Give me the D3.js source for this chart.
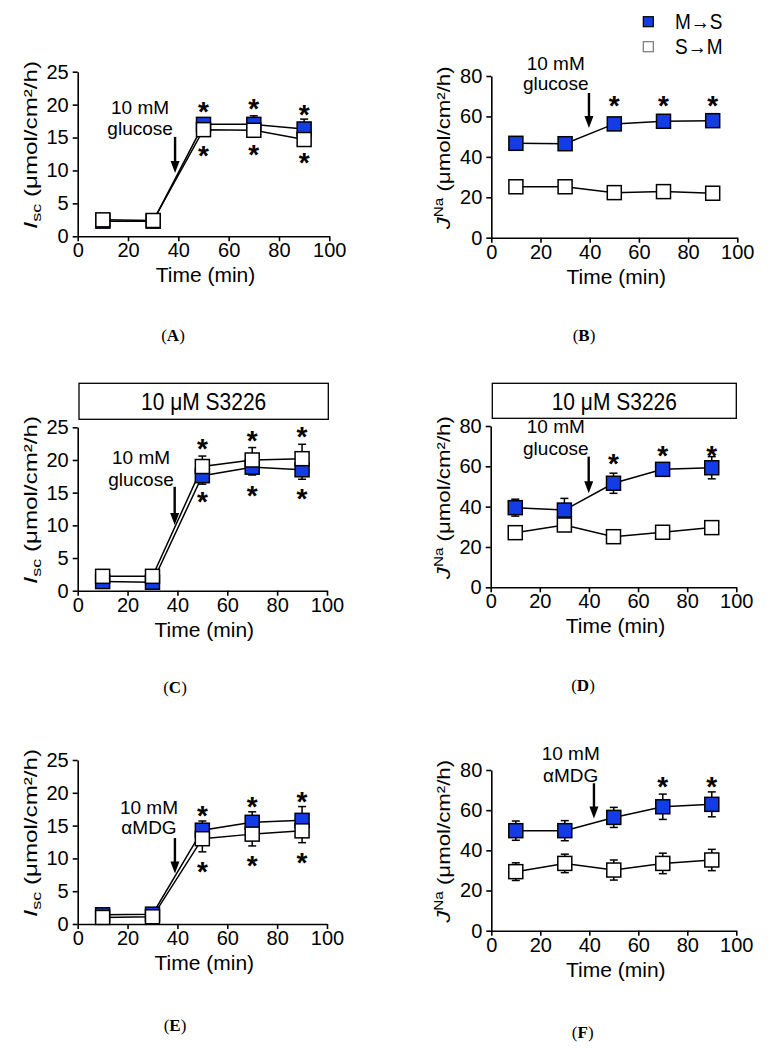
<!DOCTYPE html>
<html><head><meta charset="utf-8">
<script src="https://cdn.jsdelivr.net/npm/d3@7"></script>
<style>
body{margin:0;background:#fff}
.tall{transform-box:fill-box;transform-origin:center;transform:scaleY(1.12)}
</style>
</head><body><svg id="chart" width="768" height="1057"></svg>
<script>
// ---------- data ----------
const times = [10, 30, 50, 70, 90];
const xTicks = [0, 20, 40, 60, 80, 100];
const iscTicks = [0, 5, 10, 15, 20, 25];
const jnaTicks = [0, 20, 40, 60, 80];
const seriesNames = ["M→S", "S→M"];
const panelLetters = ["A", "B", "C", "D", "E", "F"];
const boxText = "10 μM S3226";
const xTitle = "Time (min)";
const noteGlucose = ["10 mM", "glucose"];
const noteMDG = ["10 mM", "αMDG"];

// (A) Isc, glucose
const msA = [2.3, 2.3, 17.0, 17.0, 16.3];
const msErrA = [0.2, 0.2, 1.0, 1.3, 1.5];
const smA = [2.5, 2.4, 16.2, 16.1, 14.7];
const smErrA = [0.3, 0.3, 0.7, 0.8, 0.9];
// (B) JNa, glucose
const msB = [46.7, 46.5, 56.3, 57.6, 57.9];
const msErrB = [1.5, 1.5, 2.0, 2.0, 2.0];
const smB = [25.2, 25.2, 22.3, 22.8, 22.0];
const smErrB = [1.0, 1.0, 1.0, 1.0, 1.0];
// (C) Isc, S3226 + glucose
const msC = [1.4, 1.3, 17.6, 18.9, 18.5];
const msErrC = [0.3, 0.3, 1.3, 1.2, 1.45];
const smC = [2.2, 2.2, 19.0, 20.0, 20.2];
const smErrC = [0.3, 0.3, 1.6, 1.9, 2.2];
// (D) JNa, S3226 + glucose
const msD = [39.5, 38.3, 51.6, 58.5, 59.3];
const msErrD = [4.2, 5.8, 5.0, 3.0, 5.5];
const smD = [27.1, 30.9, 25.1, 27.3, 29.6];
const smErrD = [2.0, 2.0, 2.0, 2.0, 2.0];
// (E) Isc, aMDG
const msE = [1.4, 1.5, 14.3, 15.5, 15.8];
const msErrE = [0.3, 0.3, 1.4, 1.6, 2.1];
const smE = [1.0, 1.1, 13.0, 13.7, 14.2];
const smErrE = [0.3, 0.3, 2.0, 1.8, 1.8];
// (F) JNa, aMDG
const msF = [49.8, 49.8, 56.4, 61.7, 62.9];
const msErrF = [4.8, 5.0, 5.0, 6.3, 6.2];
const smF = [29.4, 33.5, 30.2, 33.5, 35.2];
const smErrF = [4.4, 4.6, 5.0, 5.1, 5.3];

// significance stars (y position in data units, null = none)
const starsAboveA = [null, null, 19.8, 20.2, 19.3];
const starsBelowA = [null, null, 13.1, 13.3, 12.0];
const starsAboveB = [null, null, 68.1, 68.1, 68.1];
const starsAboveC = [null, null, 22.55, 23.8, 24.5];
const starsBelowC = [null, null, 14.5, 15.4, 15.0];
const starsAboveD = [null, null, 64.0, 68.1, 68.1];
const starsAboveE = [null, null, 17.4, 18.75, 19.5];
const starsBelowE = [null, null, 8.85, 9.75, 10.26];
const starsAboveF = [null, null, null, 74.5, 74.5];

// ---------- style / layout ----------
const FONT = '"Liberation Sans", Arial, Helvetica, sans-serif';
const SERIF = '"Liberation Serif", "Times New Roman", serif';
const BLUE = "#143ce6";

const panels = [
  {letter: "A", kind: "isc", ymax: 25, ticks: iscTicks, x0: 77.7, x1: 329.3, y0: 236.3, y1: 71.7,
   ms: msA, msErr: msErrA, sm: smA, smErr: smErrA, above: starsAboveA, below: starsBelowA,
   note: noteGlucose, noteX: 24.8, noteY: [18.4, 15.6], arrow: [38.7, 15.1, 9.6], label: [173, 341]},
  {letter: "B", kind: "jna", ymax: 80, ticks: jnaTicks, x0: 491.3, x1: 737.3, y0: 237.7, y1: 76,
   ms: msB, msErr: msErrB, sm: smB, smErr: smErrB, above: starsAboveB, below: null,
   note: noteGlucose, noteX: 26.2, noteY: [82.1, 73.9], arrow: [39.7, 71.6, 54.3], label: [584, 341]},
  {letter: "C", kind: "isc", ymax: 25, ticks: iscTicks, x0: 77.7, x1: 327, y0: 590.7, y1: 427.3,
   ms: msC, msErr: msErrC, sm: smC, smErr: smErrC, above: starsAboveC, below: starsBelowC,
   note: noteGlucose, noteX: 25.4, noteY: [19.2, 16.3], arrow: [38.9, 15.9, 10.05], label: [175, 693],
   box: [79, 383.3, 249.3, 36]},
  {letter: "D", kind: "jna", ymax: 80, ticks: jnaTicks, x0: 490.7, x1: 736.3, y0: 587.3, y1: 426,
   ms: msD, msErr: msErrD, sm: smD, smErr: smErrD, above: starsAboveD, below: null,
   note: noteGlucose, noteX: 26.5, noteY: [76.0, 66.5], arrow: [39.9, 64.8, 46.6], label: [583, 691],
   box: [492.3, 383.3, 244, 35]},
  {letter: "E", kind: "isc", ymax: 25, ticks: iscTicks, x0: 77.7, x1: 327, y0: 924, y1: 760,
   ms: msE, msErr: msErrE, sm: smE, smErr: smErrE, above: starsAboveE, below: starsBelowE,
   note: noteMDG, noteX: 28.6, noteY: [16.6, 13.9], arrow: [39.0, 13.1, 7.7], label: [175, 1031]},
  {letter: "F", kind: "jna", ymax: 80, ticks: jnaTicks, x0: 491.3, x1: 736.3, y0: 930.7, y1: 770,
   ms: msF, msErr: msErrF, sm: smF, smErr: smErrF, above: starsAboveF, below: null,
   note: noteMDG, noteX: 32.4, noteY: [84.1, 75.0], arrow: [41.9, 73.4, 55.9], label: [582.7, 1038]}
];

const svg = d3.select("#chart");

function drawPanel(p) {
  const x = d3.scaleLinear().domain([0, 100]).range([p.x0, p.x1]);
  const y = d3.scaleLinear().domain([0, p.ymax]).range([p.y0, p.y1]);
  const g = svg.append("g");

  // axes
  const xa = g.append("g").attr("transform", `translate(0,${p.y0})`)
    .call(d3.axisBottom(x).tickValues(xTicks).tickSize(5).tickPadding(2).tickSizeOuter(0));
  const ya = g.append("g").attr("transform", `translate(${p.x0},0)`)
    .call(d3.axisLeft(y).tickValues(p.ticks).tickSize(5).tickPadding(4).tickSizeOuter(0));
  [xa, ya].forEach(a => {
    a.attr("font-family", FONT).attr("font-size", 20);
    a.selectAll("path,line").attr("stroke", "#000").attr("stroke-width", 1.6);
    a.selectAll("text").attr("fill", "#000");
  });

  // connecting lines
  const line = d3.line().x((d, i) => x(times[i])).y(d => y(d));
  [p.ms, p.sm].forEach(s => {
    g.append("path").datum(s).attr("d", line)
      .attr("fill", "none").attr("stroke", "#000").attr("stroke-width", 1.5);
  });

  // error bars (both series, under markers)
  [[p.ms, p.msErr], [p.sm, p.smErr]].forEach(([v, e]) => {
    const eg = g.append("g").attr("stroke", "#000").attr("stroke-width", 1.5);
    v.forEach((val, i) => {
      const cx = x(times[i]);
      const yt = y(val + e[i]), yb = y(val - e[i]);
      eg.append("line").attr("x1", cx).attr("x2", cx).attr("y1", yt).attr("y2", yb);
      eg.append("line").attr("x1", cx - 4).attr("x2", cx + 4).attr("y1", yt).attr("y2", yt);
      eg.append("line").attr("x1", cx - 4).attr("x2", cx + 4).attr("y1", yb).attr("y2", yb);
    });
  });

  // markers: M→S (blue) then S→M (white) on top
  [[p.ms, BLUE], [p.sm, "#fff"]].forEach(([v, fill]) => {
    g.append("g").selectAll("rect").data(v).join("rect")
      .attr("x", (d, i) => x(times[i]) - 7).attr("y", d => y(d) - 7)
      .attr("width", 14).attr("height", 14)
      .attr("fill", fill).attr("stroke", "#000").attr("stroke-width", 1.5);
  });

  // stars
  [p.above, p.below].forEach(arr => {
    if (!arr) return;
    arr.forEach((v, i) => {
      if (v == null) return;
      g.append("text").attr("x", x(times[i])).attr("y", y(v) + 15)
        .attr("text-anchor", "middle").attr("font-family", FONT)
        .attr("font-weight", "bold").attr("font-size", 28).text("*");
    });
  });

  // annotation text (two lines) + arrow
  const shifts = [-1.5, 1.5];
  p.note.forEach((t, k) => {
    g.append("text").attr("x", x(p.noteX)).attr("y", y(p.noteY[k]) + shifts[k])
      .attr("text-anchor", "middle").attr("font-family", FONT).attr("font-size", 19)
      .text(t);
  });
  const ax = x(p.arrow[0]), ay1 = y(p.arrow[1]), ay2 = y(p.arrow[2]);
  g.append("line").attr("x1", ax).attr("x2", ax).attr("y1", ay1).attr("y2", ay2 - 9)
    .attr("stroke", "#000").attr("stroke-width", 2.4);
  g.append("path").attr("d", `M${ax - 4.5},${ay2 - 12}L${ax + 4.5},${ay2 - 12}L${ax},${ay2}Z`).attr("fill", "#000");

  // y-axis title
  const yt = g.append("text")
    .attr("transform", `translate(${p.x0 - 41},${(p.y0 + p.y1) / 2 - 9}) rotate(-90)`)
    .attr("text-anchor", "middle").attr("font-family", FONT).attr("font-size", 17.5);
  if (p.kind === "isc") {
    yt.append("tspan").attr("font-style", "italic").attr("font-size", 19).text("I");
    yt.append("tspan").attr("font-size", 13).attr("dy", 4).text("sc");
    yt.append("tspan").attr("dy", -4).text(" (μmol/cm²/h)");
    yt.attr("textLength", 168).attr("lengthAdjust", "spacingAndGlyphs");
  } else {
    yt.append("tspan").attr("font-style", "italic").attr("font-size", 19).text("J");
    yt.append("tspan").attr("font-size", 12).attr("dy", -7).text("Na");
    yt.append("tspan").attr("dy", 7).text(" (μmol/cm²/h)");
    yt.attr("textLength", 163).attr("lengthAdjust", "spacingAndGlyphs");
  }

  // x-axis title
  g.append("text").attr("x", (p.x0 + p.x1) / 2 + 2).attr("y", p.y0 + 46)
    .attr("text-anchor", "middle").attr("font-family", FONT).attr("font-size", 21)
    .text(xTitle);

  // treatment box
  if (p.box) {
    g.append("rect").attr("x", p.box[0]).attr("y", p.box[1]).attr("width", p.box[2]).attr("height", p.box[3])
      .attr("fill", "#fff").attr("stroke", "#000").attr("stroke-width", 1.3);
    g.append("text").attr("x", p.box[0] + p.box[2] / 2).attr("y", p.box[1] + p.box[3] / 2 + 8)
      .attr("text-anchor", "middle").attr("font-family", FONT).attr("font-size", 21)
      .attr("class", "tall").text(boxText);
  }

  // panel label
  const lt = g.append("text").attr("x", p.label[0]).attr("y", p.label[1])
    .attr("text-anchor", "middle").attr("font-family", SERIF).attr("font-size", 17);
  lt.append("tspan").text("(");
  lt.append("tspan").attr("font-weight", "bold").text(p.letter);
  lt.append("tspan").text(")");
}

panels.forEach(drawPanel);

// legend
const legend = svg.append("g").attr("font-family", FONT).attr("font-size", 19);
const legendStyles = [{fill: BLUE, stroke: "#000", cy: 21.7}, {fill: "#fff", stroke: "#777", cy: 46.7}];
seriesNames.forEach((name, i) => {
  const s = legendStyles[i];
  legend.append("rect").attr("x", 643.3).attr("y", s.cy - 5).attr("width", 10).attr("height", 10)
    .attr("fill", s.fill).attr("stroke", s.stroke).attr("stroke-width", 1.2);
  legend.append("text").attr("x", 675).attr("y", s.cy + 6.5).attr("class", "tall").text(name);
});
</script>
</body></html>
